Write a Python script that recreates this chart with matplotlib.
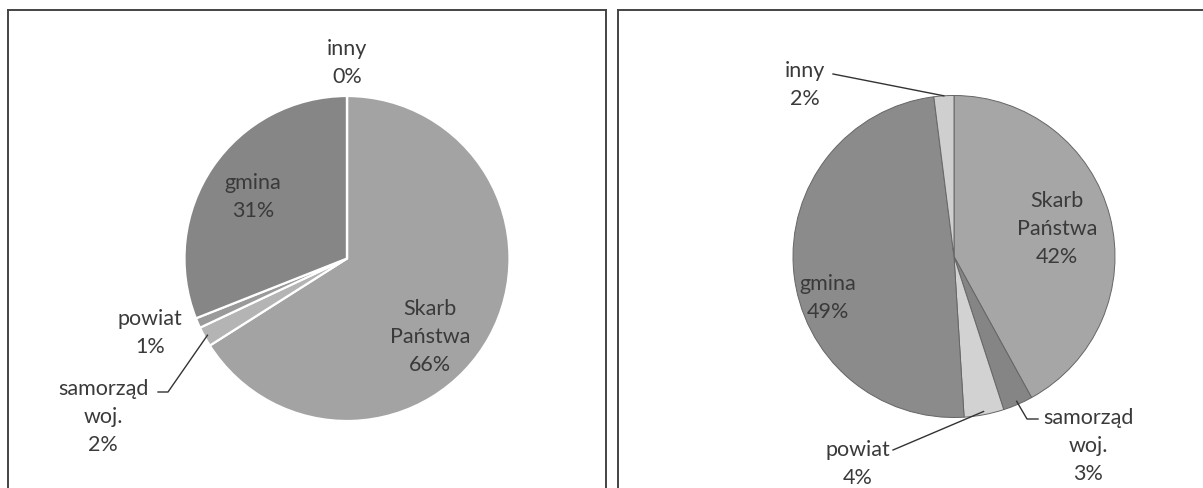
import numpy as np
import matplotlib
matplotlib.use("Agg")
import matplotlib.pyplot as plt

# ownership shares, clockwise from 12 o'clock
left_names = ["Skarb\nPaństwa", "samorząd\nwoj.", "powiat", "gmina", "inny"]
left_values = [66, 2, 1, 31, 0]
left_colors = ["#a3a3a3", "#b4b4b4", "#9a9a9a", "#868686", "#d0d0d0"]

right_names = ["Skarb\nPaństwa", "samorząd\nwoj.", "powiat", "gmina", "inny"]
right_values = [42, 3, 4, 49, 2]
right_colors = ["#a6a6a6", "#858585", "#d2d2d2", "#8b8b8b", "#cfcfcf"]

W, H = 1203, 489
TXT = "#3a3a3a"
plt.rcParams["font.family"] = ["Lato", "DejaVu Sans"]

fig = plt.figure(figsize=(W / 100, H / 100), dpi=100)
ax = fig.add_axes([0, 0, 1, 1])


def draw_pie(values, colors, center, radius, edge, lw):
    wedges, _ = ax.pie(values, colors=colors, center=center, radius=radius,
                       startangle=270, counterclock=True, frame=True,
                       wedgeprops=dict(edgecolor=edge, linewidth=lw))
    return wedges


def edge_point(w, frac=1.0):
    mid = np.deg2rad((w.theta1 + w.theta2) / 2)
    cx, cy = w.center
    return cx + w.r * frac * np.cos(mid), cy + w.r * frac * np.sin(mid)


def label(names, values, i, pos):
    ax.text(pos[0], pos[1], f"{names[i]}\n{values[i]}%", ha="center", va="center",
            fontsize=15.5, color=TXT, linespacing=1.5)


lw_ = draw_pie(left_values, left_colors, (347, 259.5), 162.5, "white", 1.6)
rw_ = draw_pie(right_values, right_colors, (954, 257.5), 161, "#666666", 0.7)

# left chart labels
left_pos = [(430, 337), (103, 417), (150, 333), (253, 197), (347, 63)]
for i, p in enumerate(left_pos):
    label(left_names, left_values, i, p)
x0, y0 = edge_point(lw_[1], 0.98)
ax.plot([158, 168, x0], [393, 393, y0], color="#333333", lw=1)

# right chart labels
right_pos = [(1057, 229), (1088, 446), (858, 464), (828, 298), (805, 85)]
for i, p in enumerate(right_pos):
    label(right_names, right_values, i, p)
x0, y0 = edge_point(rw_[4], 1.0)
ax.plot([833, x0], [75, y0], color="#333333", lw=1)
x0, y0 = edge_point(rw_[2], 0.98)
ax.plot([893, x0], [451, y0], color="#333333", lw=1)
x0, y0 = edge_point(rw_[1], 0.98)
ax.plot([x0, 1027, 1038], [y0, 420, 420], color="#333333", lw=1)

# panel frames
frame_kw = dict(color="#444444", lw=1.4)
ax.plot([8, 8], [H, 11], **frame_kw)
ax.plot([8, 606], [11, 11], **frame_kw)
ax.plot([606, 606], [11, H], **frame_kw)
ax.plot([618, 618], [H, 11], **frame_kw)
ax.plot([618, W], [11, 11], **frame_kw)

ax.set_xlim(0, W)
ax.set_ylim(H, 0)
ax.set_aspect("equal")
ax.axis("off")

fig.savefig("out.png", dpi=100, facecolor="white")
